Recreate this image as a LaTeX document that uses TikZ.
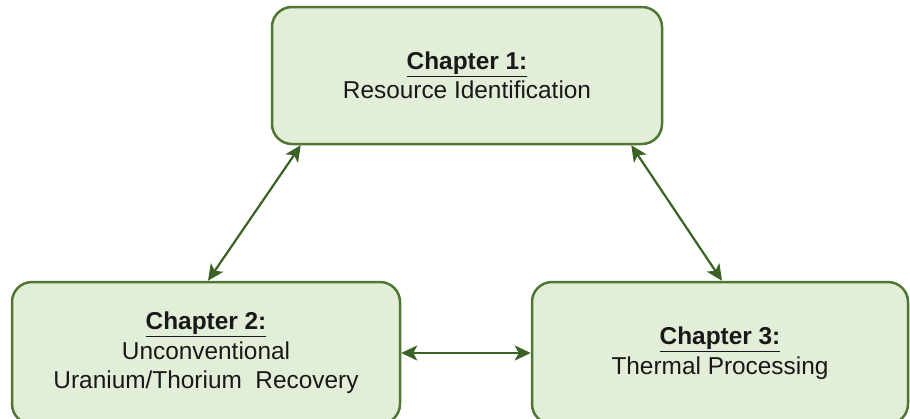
\documentclass[tikz,border=0pt]{standalone}
\usepackage{fontspec}
\setmainfont{Liberation Sans}
\usepackage{xcolor}
\usetikzlibrary{positioning,arrows.meta}

\definecolor{boxfill}{HTML}{E2EED8}
\definecolor{boxline}{HTML}{517634}
\definecolor{linkgreen}{HTML}{3B6224}

\begin{document}
\begin{tikzpicture}[
    x=1pt,
    y=-1pt,
    <->,
    >={Stealth[length=16pt,width=15pt,inset=4pt]},
    line width=2.2pt
]

\useasboundingbox (0,0) rectangle (910,418);

\tikzstyle{chapter}=[
    rectangle,
    rounded corners=20pt,
    draw=boxline,
    line width=2.5pt,
    fill=boxfill,
    align=center,
    text=black!90,
    font=\fontsize{24.4}{29.5}\selectfont
]


\node[chapter, minimum width=390pt, minimum height=137pt] (ch1) at (467,75.5)
    {\textbf{\underline{Chapter 1:}}\\Resource Identification};
\node[chapter, minimum width=388pt, minimum height=142pt] (ch2) at (206,353)
    {\textbf{\underline{Chapter 2:}}\\Unconventional\\Uranium/Thorium\ \ Recovery};
\node[chapter, minimum width=376pt, minimum height=142pt] (ch3) at (720,353)
    {\textbf{\underline{Chapter 3:}}\\Thermal Processing};


\draw[linkgreen] ([xshift=30pt]ch1.south west) -- ([xshift=2pt]ch2.north);
\draw[linkgreen] ([xshift=-32pt]ch1.south east) -- ([xshift=2pt]ch3.north);
\draw[linkgreen] (ch2) -- (ch3);

\end{tikzpicture}
\end{document}
